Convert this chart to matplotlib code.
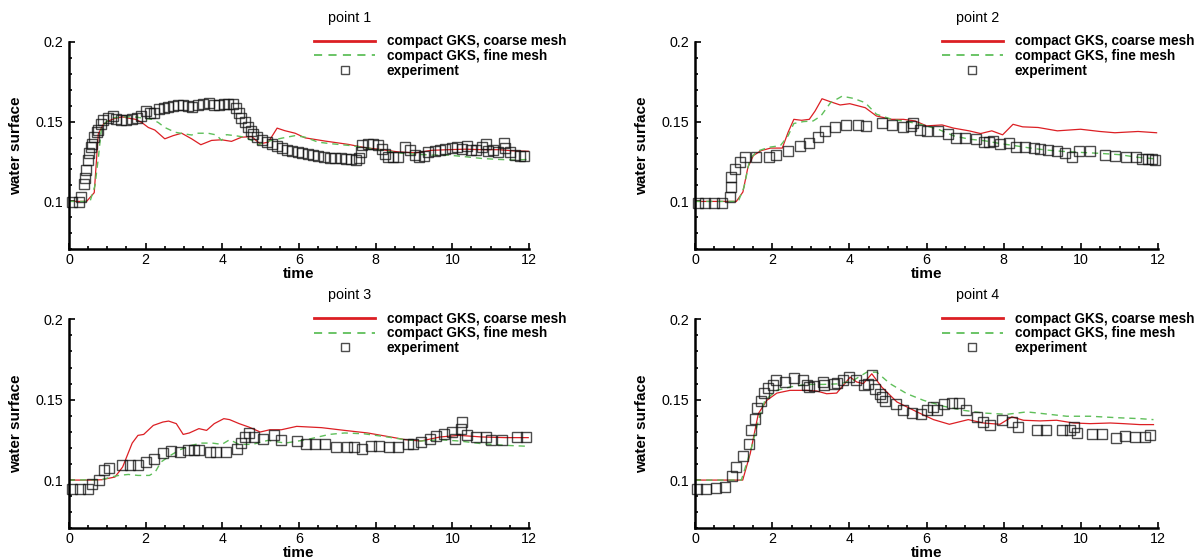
import matplotlib.pyplot as plt
from matplotlib.ticker import MultipleLocator

plt.rcParams['font.family'] = ['Liberation Sans', 'DejaVu Sans']

# ---- point 1 ----
p1_exp_t = [0.09, 0.26, 0.31, 0.40, 0.42, 0.44, 0.49, 0.52, 0.57, 0.61,
            0.66, 0.72, 0.77, 0.83, 0.90, 1.03, 1.14, 1.24, 1.37, 1.50,
            1.64, 1.77, 1.88, 2.00, 2.11, 2.23, 2.35, 2.49, 2.59, 2.72,
            2.85, 2.98, 3.11, 3.22, 3.36, 3.50, 3.65, 3.79, 3.91, 4.05,
            4.16, 4.27, 4.37, 4.44, 4.50, 4.59, 4.66, 4.75, 4.81, 4.90,
            5.03, 5.16, 5.29, 5.42, 5.55, 5.70, 5.83, 5.97, 6.09, 6.23,
            6.37, 6.50, 6.66, 6.81, 6.94, 7.10, 7.23, 7.36, 7.48, 7.57,
            7.61, 7.64, 7.79, 7.94, 8.07, 8.17, 8.24, 8.31, 8.46, 8.59,
            8.77, 8.90, 9.03, 9.13, 9.27, 9.37, 9.55, 9.68, 9.81, 9.98,
            10.11, 10.24, 10.37, 10.50, 10.63, 10.77, 10.87, 10.94, 11.07, 11.20,
            11.36, 11.37, 11.50, 11.63, 11.77, 11.88]
p1_exp_h = [0.0994, 0.0994, 0.1030, 0.1106, 0.1147, 0.1198, 0.1259, 0.1304, 0.1341, 0.1361,
            0.1402, 0.1433, 0.1447, 0.1484, 0.1508, 0.1524, 0.1535, 0.1514, 0.1508, 0.1508,
            0.1514, 0.1524, 0.1535, 0.1565, 0.1555, 0.1555, 0.1576, 0.1586, 0.1590, 0.1596,
            0.1602, 0.1606, 0.1596, 0.1592, 0.1606, 0.1610, 0.1616, 0.1606, 0.1606, 0.1612,
            0.1610, 0.1610, 0.1586, 0.1555, 0.1524, 0.1500, 0.1467, 0.1443, 0.1422, 0.1402,
            0.1386, 0.1371, 0.1361, 0.1345, 0.1337, 0.1324, 0.1316, 0.1310, 0.1304, 0.1296,
            0.1290, 0.1284, 0.1280, 0.1273, 0.1269, 0.1269, 0.1265, 0.1263, 0.1259, 0.1270,
            0.1310, 0.1351, 0.1357, 0.1357, 0.1351, 0.1331, 0.1300, 0.1280, 0.1276, 0.1280,
            0.1341, 0.1320, 0.1290, 0.1280, 0.1284, 0.1310, 0.1314, 0.1324, 0.1331, 0.1337,
            0.1341, 0.1331, 0.1345, 0.1324, 0.1320, 0.1341, 0.1361, 0.1314, 0.1322, 0.1308,
            0.1367, 0.1337, 0.1308, 0.1288, 0.1284, 0.1284]
p1_coarse_t = [0, 0.46, 0.66, 0.765, 0.90, 1.03, 1.20, 1.39, 1.59, 1.74,
               1.90, 2.07, 2.24, 2.50, 2.72, 2.94, 3.20, 3.44, 3.72, 3.98,
               4.24, 4.50, 4.77, 4.98, 5.20, 5.43, 5.63, 5.90, 6.16, 6.68,
               7.29, 7.72, 8.16, 8.59, 9.03, 9.46, 9.90, 10.33, 10.77, 11.20,
               11.63, 11.98]
p1_coarse_h = [0.1, 0.1, 0.1055, 0.1422, 0.1484, 0.1504, 0.1520, 0.1529, 0.1520, 0.1514,
               0.1494, 0.1463, 0.1447, 0.1392, 0.1412, 0.1427, 0.1392, 0.1355, 0.1382, 0.1386,
               0.1376, 0.1402, 0.1406, 0.1361, 0.1371, 0.1459, 0.1443, 0.1427, 0.1398, 0.1378,
               0.1357, 0.1337, 0.1324, 0.1310, 0.1304, 0.1320, 0.1324, 0.1327, 0.1324, 0.1324,
               0.1316, 0.1314]
p1_fine_t = [0, 0.55, 0.68, 0.77, 0.85, 0.98, 1.16, 1.42, 1.72, 1.98,
             2.17, 2.33, 2.50, 2.77, 3.03, 3.20, 3.37, 3.63, 3.85, 3.98,
             4.11, 4.33, 4.59, 4.77, 4.94, 5.11, 5.29, 5.55, 5.90, 6.16,
             6.50, 6.85, 7.29, 7.72, 8.16, 8.59, 9.03, 9.46, 9.90, 10.33,
             10.77, 11.20, 11.63, 11.98]
p1_fine_h = [0.1, 0.1, 0.1100, 0.1280, 0.1463, 0.1500, 0.1524, 0.1529, 0.1529, 0.1520,
             0.1514, 0.1494, 0.1463, 0.1433, 0.1422, 0.1416, 0.1427, 0.1427, 0.1416, 0.1382,
             0.1418, 0.1412, 0.1402, 0.1382, 0.1355, 0.1371, 0.1382, 0.1396, 0.1412, 0.1402,
             0.1371, 0.1361, 0.1351, 0.1337, 0.1320, 0.1304, 0.1296, 0.1290, 0.1290, 0.1280,
             0.1269, 0.1263, 0.1259, 0.1263]

# ---- point 2 ----
p2_exp_t = [0.07, 0.27, 0.50, 0.70, 0.90, 0.92, 0.93, 1.04, 1.17, 1.30,
            1.59, 1.91, 2.09, 2.41, 2.73, 2.96, 3.19, 3.36, 3.63, 3.91,
            4.21, 4.43, 4.85, 5.10, 5.38, 5.60, 5.65, 5.82, 6.02, 6.30,
            6.55, 6.75, 7.00, 7.28, 7.50, 7.61, 7.71, 7.89, 8.14, 8.31,
            8.54, 8.79, 8.94, 9.14, 9.39, 9.59, 9.77, 9.94, 10.24, 10.63,
            10.88, 11.18, 11.43, 11.58, 11.73, 11.83, 11.93]
p2_exp_h = [0.0991, 0.0991, 0.0991, 0.0991, 0.1028, 0.1090, 0.1152, 0.1204, 0.1245, 0.1281,
            0.1281, 0.1276, 0.1293, 0.1314, 0.1347, 0.1363, 0.1405, 0.1442, 0.1463, 0.1479,
            0.1479, 0.1475, 0.1488, 0.1479, 0.1467, 0.1470, 0.1488, 0.1446, 0.1442, 0.1442,
            0.1421, 0.1396, 0.1396, 0.1392, 0.1370, 0.1370, 0.1380, 0.1359, 0.1363, 0.1343,
            0.1339, 0.1334, 0.1326, 0.1322, 0.1314, 0.1301, 0.1281, 0.1318, 0.1314, 0.1293,
            0.1287, 0.1281, 0.1276, 0.1264, 0.1264, 0.1264, 0.1260]
p2_coarse_t = [0, 1.07, 1.24, 1.37, 1.51, 1.71, 1.96, 2.26, 2.41, 2.56,
               2.76, 2.96, 3.11, 3.29, 3.51, 3.76, 4.01, 4.41, 4.70, 5.10,
               5.40, 5.70, 6.00, 6.40, 6.70, 7.10, 7.40, 7.69, 7.97, 8.24,
               8.49, 8.89, 9.39, 9.99, 10.49, 10.88, 11.48, 11.96]
p2_coarse_h = [0.1, 0.1, 0.1059, 0.1214, 0.1287, 0.1318, 0.1334, 0.1334, 0.1432, 0.1514,
               0.1508, 0.1514, 0.1566, 0.1643, 0.1624, 0.1604, 0.1612, 0.1587, 0.1535, 0.1514,
               0.1514, 0.1504, 0.1473, 0.1479, 0.1459, 0.1442, 0.1425, 0.1442, 0.1417, 0.1483,
               0.1467, 0.1463, 0.1442, 0.1452, 0.1438, 0.1430, 0.1438, 0.1430]
p2_fine_t = [0, 1.12, 1.27, 1.42, 1.61, 1.91, 2.21, 2.41, 2.56, 2.81,
             3.06, 3.26, 3.51, 3.81, 4.11, 4.41, 4.70, 5.10, 5.50, 5.90,
             6.30, 6.70, 7.10, 7.50, 7.89, 8.29, 8.69, 9.09, 9.49, 9.99,
             10.49, 10.99, 11.48, 11.96]
p2_fine_h = [0.1, 0.1, 0.1090, 0.1266, 0.1314, 0.1339, 0.1349, 0.1411, 0.1488, 0.1500,
             0.1504, 0.1535, 0.1618, 0.1659, 0.1645, 0.1618, 0.1546, 0.1514, 0.1500, 0.1479,
             0.1452, 0.1411, 0.1390, 0.1380, 0.1363, 0.1349, 0.1334, 0.1322, 0.1314, 0.1307,
             0.1301, 0.1293, 0.1276, 0.1266]

# ---- point 3 ----
p3_exp_t = [0.08, 0.30, 0.50, 0.60, 0.78, 0.92, 1.05, 1.38, 1.60, 1.80,
            2.00, 2.22, 2.45, 2.65, 2.90, 3.10, 3.25, 3.39, 3.67, 3.84,
            4.09, 4.39, 4.49, 4.59, 4.69, 4.84, 5.07, 5.34, 5.54, 5.94,
            6.19, 6.41, 6.69, 6.97, 7.24, 7.44, 7.64, 7.89, 8.09, 8.34,
            8.59, 8.84, 8.98, 9.18, 9.43, 9.58, 9.78, 9.98, 10.08, 10.23,
            10.26, 10.38, 10.63, 10.88, 11.00, 11.30, 11.68, 11.93]
p3_exp_h = [0.0946, 0.0946, 0.0944, 0.0973, 0.1002, 0.1060, 0.1077, 0.1091, 0.1091, 0.1091,
            0.1112, 0.1133, 0.1168, 0.1180, 0.1174, 0.1185, 0.1185, 0.1185, 0.1174, 0.1174,
            0.1174, 0.1195, 0.1230, 0.1268, 0.1293, 0.1268, 0.1257, 0.1278, 0.1247, 0.1243,
            0.1226, 0.1222, 0.1222, 0.1205, 0.1205, 0.1205, 0.1195, 0.1214, 0.1210, 0.1205,
            0.1205, 0.1226, 0.1226, 0.1237, 0.1257, 0.1272, 0.1288, 0.1299, 0.1257, 0.1320,
            0.1361, 0.1278, 0.1268, 0.1268, 0.1251, 0.1251, 0.1268, 0.1268]
p3_coarse_t = [0, 0.50, 0.85, 1.20, 1.40, 1.65, 1.80, 1.95, 2.20, 2.45,
               2.60, 2.80, 2.98, 3.14, 3.39, 3.59, 3.79, 4.04, 4.19, 4.44,
               4.69, 4.99, 5.24, 5.54, 5.94, 6.59, 7.19, 7.79, 8.39, 8.78,
               9.18, 9.68, 10.18, 10.78, 11.38, 11.98]
p3_coarse_h = [0.1, 0.1, 0.1002, 0.1019, 0.1081, 0.1230, 0.1278, 0.1284, 0.1340, 0.1361,
               0.1367, 0.1351, 0.1284, 0.1293, 0.1320, 0.1309, 0.1351, 0.1382, 0.1376, 0.1351,
               0.1330, 0.1299, 0.1313, 0.1313, 0.1334, 0.1326, 0.1309, 0.1293, 0.1268, 0.1251,
               0.1243, 0.1268, 0.1278, 0.1268, 0.1264, 0.1264]
p3_fine_t = [0, 0.85, 1.10, 1.30, 1.55, 1.80, 2.10, 2.25, 2.40, 2.65,
             2.90, 3.20, 3.44, 3.74, 3.99, 4.19, 4.44, 4.79, 5.19, 5.64,
             6.19, 6.79, 7.19, 7.69, 8.19, 8.78, 9.18, 9.68, 10.18, 10.78,
             11.38, 11.98]
p3_fine_h = [0.1, 0.1002, 0.1019, 0.1029, 0.1035, 0.1029, 0.1029, 0.1050, 0.1112, 0.1154,
             0.1189, 0.1216, 0.1230, 0.1230, 0.1222, 0.1251, 0.1222, 0.1222, 0.1247, 0.1230,
             0.1251, 0.1284, 0.1293, 0.1288, 0.1272, 0.1251, 0.1243, 0.1251, 0.1243, 0.1226,
             0.1216, 0.1210]

# ---- point 4 ----
p4_exp_t = [0.06, 0.29, 0.54, 0.78, 0.95, 1.06, 1.24, 1.41, 1.45, 1.56,
            1.60, 1.70, 1.79, 1.88, 2.03, 2.10, 2.33, 2.57, 2.79, 2.89,
            2.94, 3.07, 3.31, 3.34, 3.59, 3.67, 3.84, 4.00, 4.17, 4.38,
            4.49, 4.58, 4.67, 4.79, 4.84, 4.92, 5.21, 5.40, 5.62, 5.85,
            6.02, 6.16, 6.26, 6.44, 6.65, 6.83, 7.02, 7.30, 7.47, 7.65,
            7.95, 8.21, 8.38, 8.86, 9.10, 9.50, 9.72, 9.81, 9.89, 10.28,
            10.54, 10.91, 11.14, 11.40, 11.66, 11.79]
p4_exp_h = [0.0942, 0.0942, 0.0948, 0.0959, 0.1025, 0.1079, 0.1149, 0.1223, 0.1310, 0.1382,
            0.1450, 0.1492, 0.1541, 0.1574, 0.1589, 0.1624, 0.1610, 0.1636, 0.1620, 0.1589,
            0.1580, 0.1583, 0.1610, 0.1589, 0.1599, 0.1603, 0.1620, 0.1640, 0.1620, 0.1589,
            0.1599, 0.1651, 0.1568, 0.1537, 0.1517, 0.1492, 0.1471, 0.1434, 0.1417, 0.1409,
            0.1434, 0.1455, 0.1438, 0.1475, 0.1479, 0.1479, 0.1438, 0.1393, 0.1362, 0.1341,
            0.1372, 0.1362, 0.1330, 0.1314, 0.1314, 0.1310, 0.1314, 0.1331, 0.1293, 0.1285,
            0.1285, 0.1264, 0.1273, 0.1269, 0.1269, 0.1279]
p4_coarse_t = [0, 1.235, 1.43, 1.64, 1.86, 2.12, 2.46, 2.89, 3.15, 3.41,
               3.67, 4.02, 4.19, 4.36, 4.58, 4.84, 5.23, 5.75, 6.18, 6.59,
               7.08, 7.47, 7.90, 8.21, 8.51, 8.94, 9.37, 9.81, 10.24, 10.76,
               11.10, 11.53, 11.88]
p4_coarse_h = [0.1, 0.1, 0.1165, 0.1413, 0.1496, 0.1541, 0.1558, 0.1558, 0.1554, 0.1537,
               0.1541, 0.1640, 0.1610, 0.1600, 0.1661, 0.1578, 0.1486, 0.1424, 0.1376, 0.1347,
               0.1376, 0.1355, 0.1347, 0.1393, 0.1372, 0.1368, 0.1372, 0.1355, 0.1351, 0.1355,
               0.1351, 0.1345, 0.1345]
p4_fine_t = [0, 1.20, 1.47, 1.64, 1.81, 2.12, 2.46, 2.89, 3.33, 3.76,
             4.10, 4.45, 4.71, 5.05, 5.49, 5.92, 6.44, 6.95, 7.47, 8.08,
             8.60, 9.03, 9.63, 10.24, 10.93, 11.53, 11.88]
p4_fine_h = [0.1, 0.1, 0.1207, 0.1370, 0.1496, 0.1558, 0.1579, 0.1595, 0.1595, 0.1599,
             0.1620, 0.1671, 0.1671, 0.1600, 0.1537, 0.1496, 0.1459, 0.1434, 0.1417, 0.1409,
             0.1424, 0.1413, 0.1397, 0.1397, 0.1388, 0.1382, 0.1376]

titles = ["point 1", "point 2", "point 3", "point 4"]
labels = ["compact GKS, coarse mesh", "compact GKS, fine mesh", "experiment"]

RED = "#dc1f24"
GREEN = "#5fbf5a"


def plot_point(ax, title, ct, ch, ft, fh, et, eh):
    ax.plot(ct, ch, color=RED, lw=0.9, label=labels[0])
    ax.plot(ft, fh, color=GREEN, lw=1.0, ls=(0, (4.5, 3.5)), label=labels[1])
    ax.plot(et, eh, ls="none", marker="s", ms=7.2, mfc="none",
            mec="#111111", mew=1.0, alpha=0.75, clip_on=False, label=labels[2])

    ax.set_xlim(0, 12)
    ax.set_ylim(0.07, 0.2)
    ax.xaxis.set_major_locator(MultipleLocator(2))
    ax.xaxis.set_minor_locator(MultipleLocator(0.5))
    ax.yaxis.set_major_locator(MultipleLocator(0.05))
    ax.yaxis.set_minor_locator(MultipleLocator(0.01))
    ax.yaxis.set_major_formatter(plt.FuncFormatter(lambda v, p: f"{v:g}"))

    for s in ["top", "right"]:
        ax.spines[s].set_visible(False)
    for s in ["left", "bottom"]:
        ax.spines[s].set_linewidth(1.8)
    ax.tick_params(which="both", direction="in", width=1.2)
    ax.tick_params(which="major", length=4.5, labelsize=10.3)
    ax.tick_params(which="minor", length=2.5)
    ax.tick_params(axis="x", pad=2.5)
    ax.tick_params(axis="y", pad=4.3)

    ax.set_xlabel("time", fontsize=11, fontweight="bold", labelpad=0)
    ax.set_ylabel("water surface", fontsize=11, fontweight="bold", labelpad=9)

    ax.text(0.611, 1.115, title, transform=ax.transAxes, ha="center",
            va="center", fontsize=10.3)

    leg = ax.legend(loc="upper left", bbox_to_anchor=(0.533, 1.036),
                    frameon=False, prop={"weight": "bold", "size": 9.8},
                    handlelength=4.5, handletextpad=0.85, labelspacing=0.05,
                    borderpad=0, borderaxespad=0, numpoints=1)
    hl = leg.get_lines()
    hl[0].set_linewidth(2.0)
    hl[1].set_linewidth(1.3)
    hl[2].set_markersize(5.5)


fig = plt.figure(figsize=(11.99, 5.58), dpi=100)
positions = [
    [0.0575, 0.5532, 0.3837, 0.3720],
    [0.5797, 0.5532, 0.3862, 0.3720],
    [0.0575, 0.0532, 0.3837, 0.3746],
    [0.5797, 0.0532, 0.3862, 0.3746],
]
series = [
    (p1_coarse_t, p1_coarse_h, p1_fine_t, p1_fine_h, p1_exp_t, p1_exp_h),
    (p2_coarse_t, p2_coarse_h, p2_fine_t, p2_fine_h, p2_exp_t, p2_exp_h),
    (p3_coarse_t, p3_coarse_h, p3_fine_t, p3_fine_h, p3_exp_t, p3_exp_h),
    (p4_coarse_t, p4_coarse_h, p4_fine_t, p4_fine_h, p4_exp_t, p4_exp_h),
]

for pos, title, data in zip(positions, titles, series):
    ax = fig.add_axes(pos)
    plot_point(ax, title, *data)

fig.savefig("out.png", dpi=100)
